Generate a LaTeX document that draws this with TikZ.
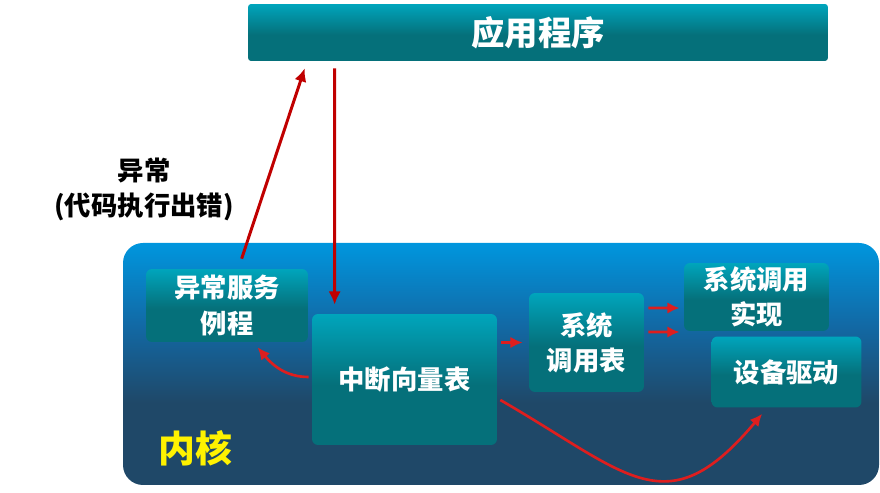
\documentclass[tikz,border=0pt]{standalone}
\usepackage{fontspec}
\setmainfont{Noto Sans CJK SC}
\usetikzlibrary{arrows.meta}

\definecolor{ktop}{RGB}{0,150,222}
\definecolor{kmid}{RGB}{18,105,165}
\definecolor{kdark}{RGB}{31,72,104}
\definecolor{ttop}{RGB}{0,165,188}
\definecolor{tdark}{RGB}{5,112,122}
\definecolor{darkred}{RGB}{192,0,0}
\definecolor{brightred}{RGB}{222,30,30}

\pgfdeclareverticalshading{kernshade}{100bp}{color(0bp)=(kdark); color(42bp)=(kdark); color(58bp)=(kmid); color(75bp)=(ktop); color(100bp)=(ktop)}
\pgfdeclareverticalshading{boxshade}{100bp}{color(0bp)=(tdark); color(48bp)=(tdark); color(75bp)=(ttop); color(100bp)=(ttop)}

\tikzset{
  tealbox/.style={shading=boxshade, rounded corners=0.12cm, text=white, align=center, inner sep=0pt,
    font=\fontsize{15}{20}\selectfont\bfseries},
  callline/.style={-{Latex[length=7.5pt,width=7pt]}, line width=1.7pt, draw=darkred},
  kernline/.style={-{Latex[length=7pt,width=6.5pt]}, line width=1.5pt, draw=brightred},
}

\begin{document}
\begin{tikzpicture}[x=0.02cm,y=0.02cm]
\useasboundingbox (0,0) rectangle (880,-493);

% Kernel area
\shade[shading=kernshade, rounded corners=0.4cm] (123,-243) rectangle (879,-485); % Kernel background
\node[text=yellow, font=\fontsize{21}{24}\selectfont\bfseries] (kern) at (195,-448) {内核}; % Kernel label

% Application bar
\node[tealbox, rounded corners=0.06cm, minimum width=11.6cm, minimum height=1.14cm,
  font=\fontsize{19}{22}\selectfont\bfseries] (app) at (538,-32.5) {应用程序};

% Kernel boxes
\node[tealbox, minimum width=3.24cm, minimum height=1.46cm] (exc) at (227,-305.5) {异常服务\\例程}; % Exception handler
\node[tealbox, minimum width=3.7cm, minimum height=2.62cm] (vec) at (404.5,-379.5) {中断向量表}; % Vector table
\node[tealbox, minimum width=2.3cm, minimum height=1.98cm] (sys) at (586.5,-342.5) {系统\\调用表}; % Syscall table
\node[tealbox, minimum width=2.9cm, minimum height=1.36cm] (impl) at (756.5,-297) {系统调用\\实现}; % Syscall implementation
\node[tealbox, minimum width=3.0cm, minimum height=1.42cm] (dev) at (786.5,-372) {设备驱动}; % Device driver

% Exception label
\node[align=center, font=\fontsize{15}{20}\selectfont\bfseries] (err) at (144,-189) {异常\\(代码执行出错)};

% Calls between application and kernel
\draw[callline, shorten <=0.14cm] ([xshift=1.74cm]app.south west) -- ([xshift=0.46cm,yshift=0.18cm]vec.north west); % Call down
\draw[callline] ([xshift=1.92cm,yshift=0.2cm]exc.north west) -- ([xshift=1.14cm,yshift=-0.14cm]app.south west); % Exception up

% Arrows inside kernel
\draw[kernline] ([xshift=-0.06cm,yshift=0.05cm]vec.west) to[out=180,in=-50] ([xshift=2.24cm,yshift=-0.1cm]exc.south west); % To handler
\draw[kernline] ([xshift=0.08cm]vec.east |- sys.west) -- ([xshift=-0.12cm]sys.west); % To syscall table
\draw[kernline] ([xshift=0.08cm,yshift=0.69cm]sys.east) -- ([xshift=-0.08cm,yshift=-0.22cm]impl.west); % Upper arrow
\draw[kernline] ([xshift=0.08cm,yshift=0.21cm]sys.east) -- ([xshift=-0.08cm,yshift=-0.7cm]impl.west); % Lower arrow
\draw[kernline] ([xshift=0.06cm,yshift=-0.41cm]vec.east) to[out=-30,in=-130,looseness=1.45] ([xshift=1.02cm,yshift=-0.12cm]dev.south west); % To driver

\end{tikzpicture}
\end{document}
